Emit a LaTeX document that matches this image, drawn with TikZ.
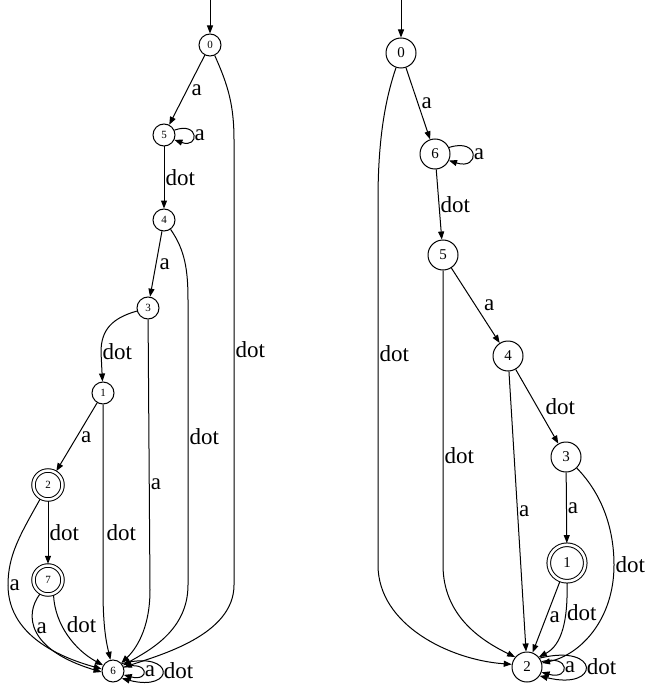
\documentclass[tikz,border=0pt]{standalone}
\usepackage{fontspec}
\setmainfont{Liberation Serif}
\usetikzlibrary{arrows.meta}
\begin{document}
\begin{tikzpicture}[x=1pt,y=-1pt,line width=1pt,
  arr/.style={-{Triangle[length=8pt,width=6pt]}},
  lab/.style={font=\fontsize{23}{25}\selectfont, inner sep=1pt},
  ls/.style={circle,draw,minimum size=22pt,inner sep=0pt,font=\fontsize{11}{13}\selectfont},
  la/.style={ls,double,double distance=2.5pt,minimum size=29pt,outer sep=1.7pt},
  rs/.style={circle,draw,minimum size=30pt,inner sep=0pt,font=\fontsize{15}{17}\selectfont},
  ra/.style={rs,double,double distance=2.6pt,minimum size=36.5pt,outer sep=1.7pt}]
\useasboundingbox (0,0) rectangle (653,687);
% ---------- left automaton ----------
\node[ls] (L0) at (210,45) {0};
\node[ls] (L5) at (164,135) {5};
\node[ls] (L4) at (164,220) {4};
\node[ls] (L3) at (148,308) {3};
\node[ls] (L1) at (103,393) {1};
\node[la] (L2) at (48,485) {2};
\node[la] (L7) at (48,580) {7};
\node[ls] (L6) at (113,671) {6};
\coordinate (Ls) at (210,0);
\draw[arr] (Ls) -- (L0);
\draw[arr] (L0) -- node[lab,right=3pt] {a} (L5);
\draw[arr] (L5.25) .. controls +(25,-9) and +(25,9) .. node[lab,right] {a} (L5.-25);
\draw[arr] (L5) -- node[lab,right] {dot} (L4);
\draw[arr] (L4) -- node[lab,right=2pt] {a} (L3);
\draw[arr] (L3) .. controls (112,318) and (101,330) .. (101,352) -- node[lab,right,pos=0] {dot} (L1);
\draw[arr] (L1) -- node[lab,right=3pt] {a} (L2);
\draw[arr] (L1) -- (103,590) node[lab,right=2pt,pos=0.69] {dot} .. controls (103,630) and (107,645) .. (L6);
\draw[arr] (L3) -- (150,590) node[lab,right,pos=0.61] {a} .. controls (150,630) and (135,650) .. (L6);
\draw[arr] (L4) .. controls (185,250) and (188,270) .. (188,300) -- (188,585) node[lab,right,pos=0.48] {dot} .. controls (188,630) and (150,650) .. (L6);
\draw[arr] (L0) .. controls (228,85) and (234,105) .. (234,140) -- (234,585) node[lab,right,pos=0.47] {dot} .. controls (234,635) and (160,655) .. (L6);
\draw[arr] (L2) -- node[lab,right] {dot} (L7);
\draw[arr] (L2) .. controls (20,535) and (8,555) .. (8,585) node[lab,right,pos=1] {a} .. controls (8,640) and (70,660) .. (L6.170);
\draw[arr] (L7.240) .. controls (24,615) and (28,650) .. node[lab,right,pos=0.45] {a} (L6.185);
\draw[arr] (L7.290) .. controls (55,625) and (75,650) .. node[lab,right=4pt,pos=0.35] {dot} (L6.150);
\draw[arr] (L6.20) .. controls +(26,-7) and +(26,7) .. node[lab,right] {a} (L6.-20);
\draw[arr] (L6.40) .. controls +(54,-14) and +(54,14) .. node[lab,right] {dot} (L6.-40);
% ---------- right automaton ----------
\node[rs] (R0) at (401,53) {0};
\node[rs] (R6) at (435,154) {6};
\node[rs] (R5) at (443,255) {5};
\node[rs] (R4) at (508,356) {4};
\node[rs] (R3) at (566,457) {3};
\node[ra] (R1) at (567,563) {1};
\node[rs] (R2) at (527,667) {2};
\coordinate (Rs) at (401,0);
\draw[arr] (Rs) -- (R0);
\draw[arr] (R0) -- node[lab,right=2pt] {a} (R6);
\draw[arr] (R6.25) .. controls +(31,-10) and +(31,10) .. node[lab,right] {a} (R6.-25);
\draw[arr] (R6) -- node[lab,right] {dot} (R5);
\draw[arr] (R5) -- node[lab,right=7pt] {a} (R4);
\draw[arr] (R4) -- node[lab,right=7pt] {dot} (R3);
\draw[arr] (R3) -- node[lab,right] {a} (R1);
\draw[arr] (R0) .. controls (385,100) and (378,140) .. (378,200) -- (378,565) node[lab,right,pos=0.42] {dot} .. controls (378,625) and (450,660) .. (R2.170);
\draw[arr] (R5) -- (443,565) node[lab,right,pos=0.63] {dot} .. controls (443,615) and (480,640) .. (R2.140);
\draw[arr] (R4) -- node[lab,right,pos=0.5] {a} (R2);
\draw[arr] (R3) .. controls (603,495) and (614,530) .. (614,565) node[lab,right,pos=1] {dot} .. controls (614,620) and (580,655) .. (R2.15);
\draw[arr] (R1) -- node[lab,right=2pt] {a} (R2);
\draw[arr] (R1.270) .. controls (568,620) and (562,645) .. node[lab,right,pos=0.3] {dot} (R2.40);
\draw[arr] (R2.20) .. controls +(29,-8) and +(29,8) .. node[lab,right] {a} (R2.-20);
\draw[arr] (R2.35) .. controls +(61,-15) and +(61,15) .. node[lab,right] {dot} (R2.-35);
\end{tikzpicture}
\end{document}
